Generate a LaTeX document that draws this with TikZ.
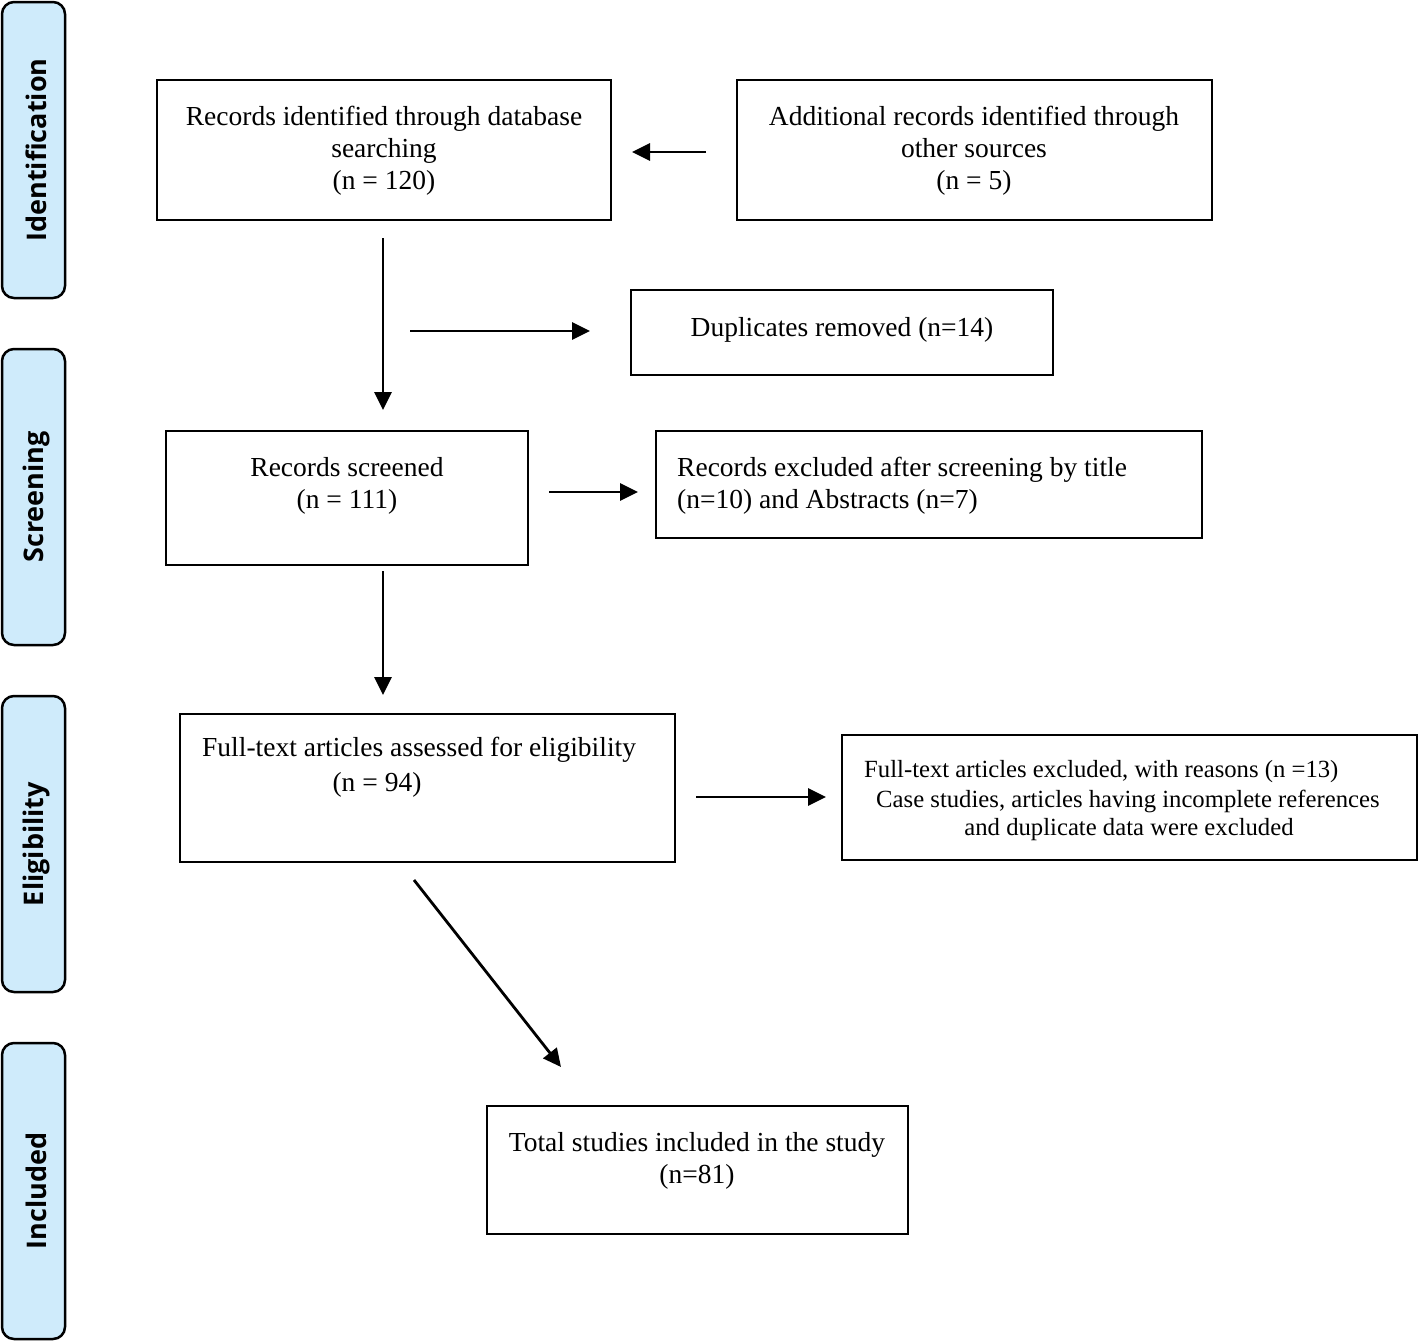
\documentclass[tikz,border=0pt]{standalone}
\usepackage{fontspec}
\setmainfont{Liberation Serif}
\newfontfamily\sidefont{Open Sans}
\usetikzlibrary{arrows.meta}
\definecolor{sidebg}{HTML}{CFEBFB}
\tikzset{
  side/.style={draw=black, line width=2.5pt, fill=sidebg, rounded corners=12pt},
  sidetxt/.style={rotate=90, font=\sidefont\bfseries\fontsize{27}{30}\selectfont},
  box/.style={draw=black, line width=2pt},
  txt/.style={font=\fontsize{27.5}{32}\selectfont, align=center, inner sep=0pt},
  smalltxt/.style={font=\fontsize{24.7}{29}\selectfont, inner sep=0pt},
  arr/.style={line width=2.8pt, -{Triangle[length=18pt,width=17pt]}}
}
\begin{document}
\begin{tikzpicture}[x=1pt,y=-1pt]
\useasboundingbox (0,0) rectangle (1418,1341);
% side bars
\draw[side] (2,2) rectangle (65,298);
\node[sidetxt] (sidI) at (36,150) {Identification};
\draw[side] (2,349) rectangle (65,645);
\node[sidetxt] (sidS) at (36,497) {Screening};
\draw[side] (2,696) rectangle (65,992);
\node[sidetxt] (sidE) at (36,844) {Eligibility};
\draw[side] (2,1043) rectangle (65,1339);
\node[sidetxt] (sidN) at (36,1191) {Included};
% boxes
\draw[box] (157,80) rectangle (611,220);
\node[txt] (tA) at (384,151) {Records identified through database\\searching\\(n = 120)};
\draw[box] (737,80) rectangle (1212,220);
\node[txt] (tB) at (974,151) {Additional records identified through\\other sources\\(n = 5)};
\draw[box] (631,290) rectangle (1053,375);
\node[txt] (tD) at (842,330) {Duplicates removed (n=14)};
\draw[box] (166,431) rectangle (528,565);
\node[txt] (tS) at (347,486) {Records screened\\(n = 111)};
\draw[box] (656,431) rectangle (1202,538);
\node[txt, align=left, anchor=west] (tX) at (677,486) {Records excluded after screening by title\\(n=10) and Abstracts (n=7)};
\draw[box] (180,714) rectangle (675,862);
\node[txt, anchor=north west] (tF) at (202,737) {Full-text articles assessed for eligibility};
\node[txt] (tF2) at (377,785) {(n = 94)};
\draw[box] (842,735) rectangle (1417,860);
\node[smalltxt, anchor=west] (tE1) at (864,772) {Full-text articles excluded, with reasons (n =13)};
\node[smalltxt, anchor=west] (tE2) at (876,801) {Case studies, articles having incomplete references};
\node[smalltxt] (tE3) at (1129,830) {and duplicate data were excluded};
\draw[box] (487,1106) rectangle (908,1234);
\node[txt] (tT) at (697,1161) {Total studies included in the study\\(n=81)};
% arrow coordinates
\coordinate (b1) at (706,152); \coordinate (b2) at (632,152);
\coordinate (d1) at (383,238); \coordinate (d2) at (383,410);
\coordinate (h1) at (410,331); \coordinate (h2) at (590,331);
\coordinate (s1) at (549,492); \coordinate (s2) at (638,492);
\coordinate (e1) at (383,571); \coordinate (e2) at (383,695);
\coordinate (f1) at (696,797); \coordinate (f2) at (826,797);
\coordinate (g1) at (414,880); \coordinate (g2) at (561,1067);
\draw[arr] (b1) -- (b2);
\draw[arr] (d1) -- (d2);
\draw[arr] (h1) -- (h2);
\draw[arr] (s1) -- (s2);
\draw[arr] (e1) -- (e2);
\draw[arr] (f1) -- (f2);
\draw[arr] (g1) -- (g2);
\end{tikzpicture}
\end{document}
